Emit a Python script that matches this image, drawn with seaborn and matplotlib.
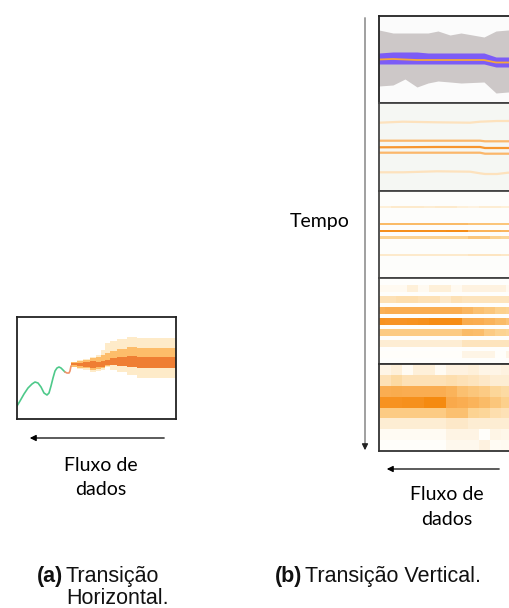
import numpy as np
import pandas as pd
import matplotlib
matplotlib.use("Agg")
import matplotlib.pyplot as plt
import seaborn as sns
from matplotlib.colors import LinearSegmentedColormap

sns.set_theme(style="white")
plt.rcParams['font.family'] = ['Liberation Sans', 'DejaVu Sans']

W, H = 509, 608

# ---------------- data: (a) horizontal transition ----------------
hist_t = [0, 3, 7, 11, 15, 18, 21, 24, 27, 30, 32, 34, 36, 38, 40, 42, 44, 46, 48]
hist_v = [13, 18, 25, 31, 35, 37, 36, 32, 26, 24, 26, 33, 41, 48, 51, 52, 51, 49, 47]
bridge_t = [48, 50, 52, 53, 54]
bridge_v = [47, 46, 46, 48, 53]
fan_t = [54, 60, 66, 73, 79, 84, 88, 93, 100, 110, 120, 159]
outer_lo = [52, 50, 49, 47, 48, 49, 52, 49, 47, 44, 41]
outer_hi = [57, 59, 60, 62, 64, 69, 76, 78, 80, 82, 81]
mid_lo = [52, 51, 51, 49, 50, 51, 53, 54, 53, 52, 51]
mid_hi = [57, 58, 59, 61, 62, 64, 66, 68, 70, 72, 71]
inner_lo = [54, 53, 52, 51, 52, 52, 54, 54, 53, 52, 51]
inner_hi = [56, 56, 57, 58, 57, 58, 59, 61, 62, 63, 62]

# ---------------- data: (b) vertical transition ----------------
# panel 1: interval band + central band + median
p1_t = [0, 14, 26, 38, 49, 59, 71, 82, 105, 117, 129, 150]
p1_outer_top = [14, 17, 17, 17, 17, 15, 19, 17, 21, 15, 14, 14]
p1_outer_bot = [70, 69, 63, 71, 67, 65, 66, 67, 66, 77, 76, 76]
p1_inner_top = [37, 36, 36, 36, 37, 37, 37, 37, 37, 41, 41, 41]
p1_inner_bot = [48, 48, 48, 48, 48, 48, 48, 48, 48, 51, 51, 51]
p1_median = [43.5, 43, 43.5, 44, 44, 44, 44, 44, 44, 46.5, 46.5, 46.5]

# panel 2: quantile lines
p2_t = [0, 24, 58, 91, 101, 106, 118, 129, 150]
p2_q05 = [19.7, 18.7, 19.3, 19.7, 18.7, 18.5, 18, 18, 18]
p2_q25 = [37.7, 37.7, 37.7, 37.7, 37.7, 38.3, 38.3, 38.3, 38.3]
p2_q50 = [44.3, 44.2, 44, 44, 44, 45, 45, 45, 45]
p2_q75 = [49.7, 49.7, 49.7, 49.7, 49.7, 50.7, 50.7, 50.7, 50.7]
p2_q95 = [69.3, 69.3, 68.3, 68.7, 70.3, 71, 71, 69.7, 69.7]

# panel 3: thin density stripes
p3_levels = [16, 33, 40, 46.5, 64]
p3_vals = [
    [0.10, 0.14, 0.14, 0.14, 0.12, 0.14, 0.14, 0.10, 0.08, 0.12, 0.12, 0.10, 0.10],
    [0.45, 0.45, 0.45, 0.45, 0.45, 0.45, 0.45, 0.45, 0.40, 0.40, 0.38, 0.38, 0.38],
    [0.82, 0.82, 0.82, 0.82, 0.82, 0.82, 0.84, 0.84, 0.52, 0.50, 0.50, 0.48, 0.48],
    [0.30, 0.30, 0.30, 0.30, 0.30, 0.30, 0.30, 0.30, 0.38, 0.38, 0.30, 0.28, 0.28],
    [0.14, 0.14, 0.14, 0.14, 0.14, 0.14, 0.14, 0.14, 0.17, 0.17, 0.17, 0.15, 0.15],
]

# panel 4: gapped density rows
p4_vals = [
    [0.03, 0.03, 0.03, 0.10, 0.03, 0.10, 0.10, 0.03, 0.08, 0.08, 0.08, 0.08, 0.03],
    [0.20, 0.20, 0.22, 0.22, 0.20, 0.20, 0.15, 0.20, 0.18, 0.18, 0.18, 0.18, 0.18],
    [0.52, 0.55, 0.55, 0.55, 0.55, 0.55, 0.55, 0.55, 0.48, 0.42, 0.38, 0.32, 0.30],
    [0.80, 0.78, 0.78, 0.80, 0.82, 0.86, 0.86, 0.86, 0.56, 0.55, 0.50, 0.45, 0.40],
    [0.35, 0.35, 0.35, 0.35, 0.35, 0.35, 0.35, 0.35, 0.45, 0.44, 0.35, 0.30, 0.28],
    [0.12, 0.12, 0.12, 0.12, 0.12, 0.12, 0.12, 0.12, 0.18, 0.18, 0.18, 0.18, 0.18],
    [0.00, 0.00, 0.00, 0.00, 0.00, 0.00, 0.00, 0.00, 0.06, 0.06, 0.06, 0.00, 0.06],
]

# panel 5: coarse density heatmap
p5_vals = [
    [0.06, 0.10, 0.02, 0.10, 0.10, 0.02, 0.08, 0.08, 0.10, 0.06, 0.06, 0.08, 0.08],
    [0.20, 0.25, 0.20, 0.20, 0.20, 0.20, 0.22, 0.20, 0.18, 0.15, 0.12, 0.12, 0.12],
    [0.55, 0.56, 0.55, 0.55, 0.55, 0.55, 0.50, 0.42, 0.38, 0.35, 0.28, 0.25, 0.25],
    [0.80, 0.80, 0.82, 0.82, 0.88, 0.88, 0.58, 0.55, 0.50, 0.45, 0.38, 0.32, 0.32],
    [0.35, 0.35, 0.35, 0.35, 0.35, 0.35, 0.42, 0.42, 0.30, 0.28, 0.22, 0.20, 0.20],
    [0.12, 0.12, 0.12, 0.12, 0.12, 0.12, 0.15, 0.15, 0.12, 0.12, 0.12, 0.12, 0.12],
    [0.02, 0.02, 0.02, 0.02, 0.02, 0.02, 0.07, 0.07, 0.07, 0.00, 0.06, 0.05, 0.05],
    [0.00, 0.00, 0.00, 0.00, 0.00, 0.00, 0.04, 0.04, 0.04, 0.08, 0.02, 0.03, 0.03],
]

cmap = LinearSegmentedColormap.from_list("dens", [
    (0.0, "#fffefa"), (0.15, "#fde8c8"), (0.3, "#fcd391"), (0.5, "#fab35a"),
    (0.7, "#f89b34"), (0.9, "#f5880c"), (1.0, "#f28000")])

fig = plt.figure(figsize=(W / 100, H / 100), dpi=100)


def ax_px(x0, y0, x1, y1, **kw):
    return fig.add_axes([x0 / W, 1 - y1 / H, (x1 - x0) / W, (y1 - y0) / H], **kw)


def frame(ax, color="#222222", lw=1.3):
    for s in ax.spines.values():
        s.set_visible(True)
        s.set_color(color)
        s.set_linewidth(lw)
    ax.set_xticks([])
    ax.set_yticks([])
    ax.set_xlabel("")
    ax.set_ylabel("")


# overlay for arrows and text
ov = ax_px(0, 0, W, H)
ov.set_xlim(0, W)
ov.set_ylim(H, 0)
ov.axis("off")

# ---------------- (a) panel ----------------
axa = ax_px(17, 317, 176, 419)
axa.set_facecolor("white")


def step(vals):
    return list(vals) + [vals[-1]]


axa.fill_between(fan_t, step(outer_lo), step(outer_hi), step="post", color="#feebc9", lw=0)
axa.fill_between(fan_t, step(mid_lo), step(mid_hi), step="post", color="#fdbd6a", lw=0)
axa.fill_between(fan_t, step(inner_lo), step(inner_hi), step="post", color="#ef7e33", lw=0)
sns.lineplot(x=hist_t, y=hist_v, ax=axa, color="#4ec98a", lw=1.2)
sns.lineplot(x=bridge_t, y=bridge_v, ax=axa, color="#f0946a", lw=1.2)
axa.set_xlim(0, 159)
axa.set_ylim(0, 102)
frame(axa)

# ---------------- (b) panels ----------------
PX0 = 379
tops = [16, 103, 191, 278, 364, 451]
PX1 = 522

# panel 1
ax1 = ax_px(PX0, tops[0], PX1, tops[1])
ax1.set_facecolor("#fbfbfb")
ax1.fill_between(p1_t, p1_outer_top, p1_outer_bot, color="#cdc8c8", lw=0)
ax1.fill_between(p1_t, p1_inner_top, p1_inner_bot, color="#7c5cf6", lw=0)
sns.lineplot(x=p1_t, y=p1_median, ax=ax1, color="#f5a83a", lw=1.3)
ax1.set_xlim(0, PX1 - PX0)
ax1.set_ylim(tops[1] - tops[0], 0)
frame(ax1)

# panel 2
ax2 = ax_px(PX0, tops[1], PX1, tops[2])
ax2.set_facecolor("#f5f7f3")
for q, c in [(p2_q05, "#fde2bd"), (p2_q95, "#fde2bd"), (p2_q25, "#fbb76a"),
             (p2_q75, "#fbb76a"), (p2_q50, "#f7962f")]:
    sns.lineplot(x=p2_t, y=q, ax=ax2, color=c, lw=1.6)
ax2.set_xlim(0, PX1 - PX0)
ax2.set_ylim(tops[2] - tops[1], 0)
frame(ax2, "#444444")

# panel 3
ax3 = ax_px(PX0, tops[2], PX1, tops[3])
ax3.set_facecolor("#fdfdfb")
ncol = len(p3_vals[0])
for lev, row in zip(p3_levels, p3_vals):
    ax3.barh([lev] * ncol, [1] * ncol, left=np.arange(ncol), height=2.2,
             color=[cmap(v) for v in row], lw=0)
ax3.set_xlim(-1 / 11, (PX1 - PX0 - 1) / 11)
ax3.set_ylim(tops[3] - tops[2], 0)
frame(ax3, "#444444")

# panel 4
ax4 = ax_px(PX0, tops[3], PX1, tops[4])
ax4.set_facecolor("#fefefc")
for r, row in enumerate(p4_vals):
    ax4.barh([r] * len(row), [1] * len(row), left=np.arange(len(row)), height=0.64,
             color=[cmap(v) for v in row], lw=0)
ax4.set_xlim(5 / 11, 5 / 11 + (PX1 - PX0) / 11)
ax4.set_ylim(6.9, -1.0)
frame(ax4, "#444444")

# panel 5
ax5 = ax_px(PX0 + 1, tops[4], PX0 + 1 + 13 * 11, tops[5])
sns.heatmap(pd.DataFrame(p5_vals), ax=ax5, cmap=cmap, vmin=0, vmax=1, cbar=False,
            xticklabels=False, yticklabels=False)
for s in ax5.spines.values():
    s.set_visible(False)
ax5.set_xlabel("")
ax5.set_ylabel("")
ax5b = ax_px(PX0, tops[4], PX1, tops[5])
ax5b.patch.set_alpha(0)
frame(ax5b, "#333333")

# ---------------- arrows & text ----------------
ov.annotate("", xy=(27, 438), xytext=(167, 438),
            arrowprops=dict(arrowstyle="-|>", color="black", lw=0.9, mutation_scale=9))
ov.annotate("", xy=(384, 469), xytext=(502, 469),
            arrowprops=dict(arrowstyle="-|>", color="black", lw=0.9, mutation_scale=9))
ov.plot([365, 365], [18, 446], color="#a0a0a0", lw=1.4)
ov.annotate("", xy=(365, 453), xytext=(365, 444),
            arrowprops=dict(arrowstyle="-|>", color="#222222", lw=0.9, mutation_scale=9))

cal = ["Lato", "DejaVu Sans"]
fs_c = 14
ov.text(101, 471, "Fluxo de", ha="center", va="baseline", fontsize=fs_c, family=cal, color="black")
ov.text(101, 495, "dados", ha="center", va="baseline", fontsize=fs_c, family=cal, color="black")
ov.text(447, 500, "Fluxo de", ha="center", va="baseline", fontsize=fs_c, family=cal, color="black")
ov.text(447, 525, "dados", ha="center", va="baseline", fontsize=fs_c, family=cal, color="black")
ov.text(290, 227, "Tempo", ha="left", va="baseline", fontsize=fs_c, family=cal, color="black")

fs_cap = 15.5
ov.text(37, 582, "(a)", ha="left", va="baseline", fontsize=fs_cap, fontweight="bold", color="#111111")
ov.text(66, 582, "Transição", ha="left", va="baseline", fontsize=fs_cap, color="#111111")
ov.text(66, 604, "Horizontal.", ha="left", va="baseline", fontsize=fs_cap, color="#111111")
ov.text(275, 582, "(b)", ha="left", va="baseline", fontsize=fs_cap, fontweight="bold", color="#111111")
ov.text(305, 582, "Transição Vertical.", ha="left", va="baseline", fontsize=fs_cap, color="#111111")

fig.savefig("out.png", dpi=100)
